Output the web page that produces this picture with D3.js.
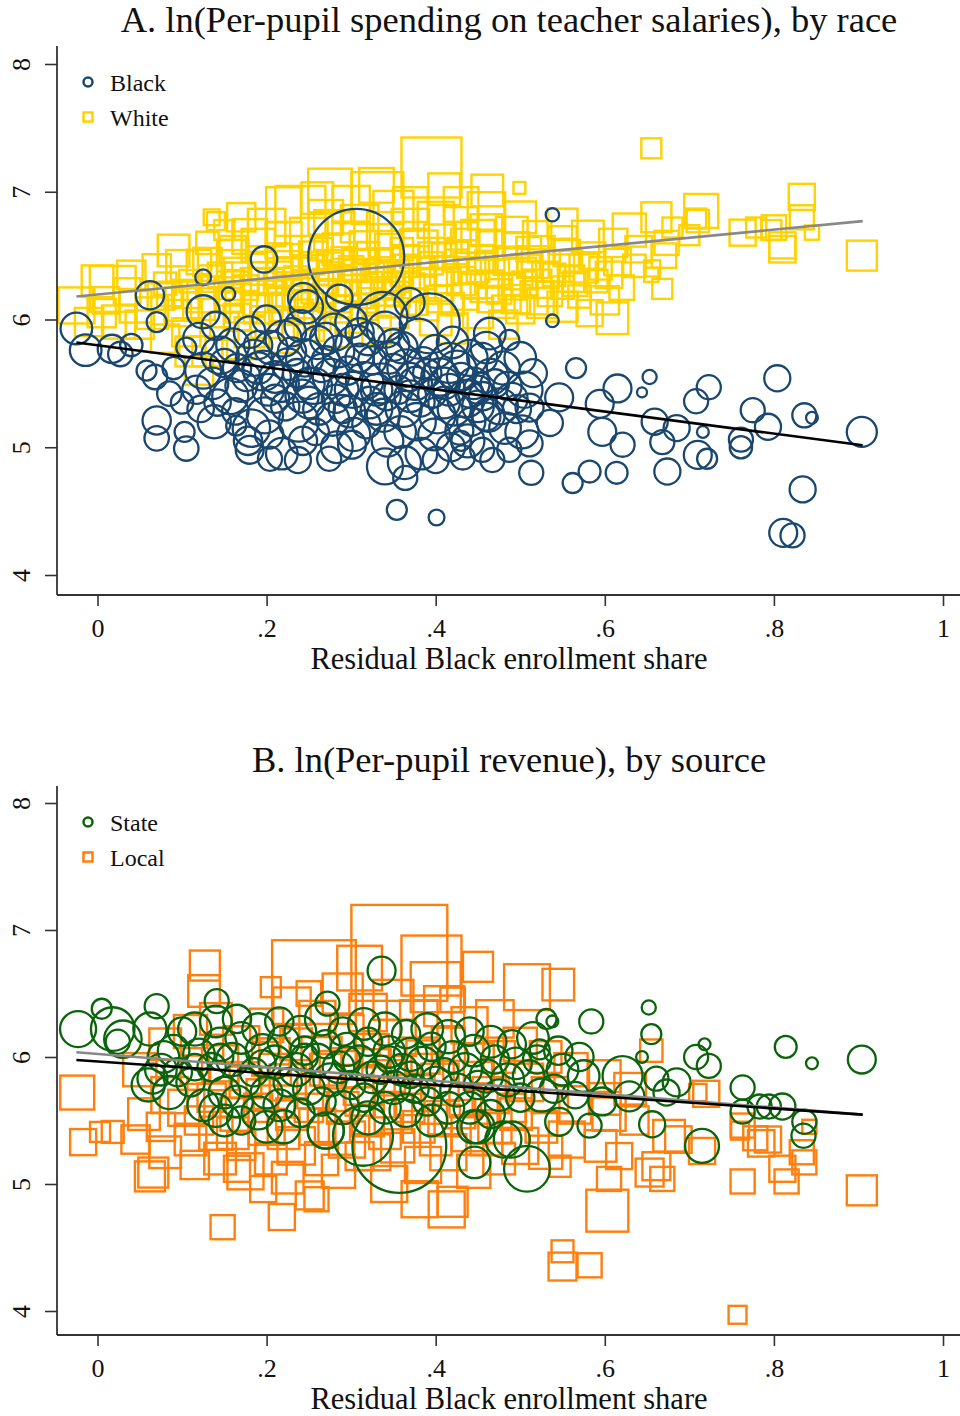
<!DOCTYPE html>
<html>
<head>
<meta charset="utf-8">
<script src="https://cdn.jsdelivr.net/npm/d3@7"></script>
<style>
  body { margin: 0; background: #fff; }
</style>
</head>
<body>
<div id="chart"></div>
<script>
//axis ticks
const xTicks = [0, 0.2, 0.4, 0.6, 0.8, 1];
const xTickLabels = ["0", ".2", ".4", ".6", ".8", "1"];
const yTicks = [4, 5, 6, 7, 8];

//panel A: [residual black share, ln spending, enrollment weight]
const blackA = [
  [-0.025,5.93,10],[-0.014,5.76,10],[0.017,5.77,8],[0.027,5.73,6],[0.04,5.8,5],
  [0.062,6.19,8],[0.07,5.98,4],[0.058,5.6,4],[0.068,5.55,6],[0.085,5.42,6],
  [0.07,5.21,8],[0.07,5.07,6],[0.105,4.99,6],[0.103,5.12,4],[0.1,5.35,5],
  [0.09,5.62,5],[0.105,5.78,4],[0.125,6.33,2.5],[0.155,6.2,1.8],
  [0.197,6.47,7],[0.538,6.82,1.8],[0.538,5.99,1.6],
  [0.393,5.97,36],[0.337,6.02,25],[0.247,6.1,11],[0.125,6.06,11],[0.369,6.13,9],
  [0.286,6.17,7],[0.243,6.17,9],[0.455,5.7,9],
  [0.12,5.85,10],[0.125,5.6,13],[0.117,5.45,8],[0.122,5.3,7],
  [0.14,5.95,8],[0.145,5.72,14],[0.136,5.5,10],[0.142,5.35,7],[0.138,5.2,11],
  [0.16,5.8,11],[0.165,5.62,8],[0.157,5.4,13],[0.163,5.28,7],
  [0.18,5.9,10],[0.185,5.7,13],[0.176,5.55,8],[0.182,5.15,14],[0.178,5.05,8],
  [0.2,6.0,8],[0.205,5.78,11],[0.196,5.6,16],[0.202,5.45,10],[0.198,5.25,13],[0.203,5.1,8],
  [0.22,5.85,13],[0.225,5.65,10],[0.216,5.5,14],[0.222,5.32,8],[0.218,4.95,10],
  [0.24,5.95,10],[0.245,5.7,14],[0.236,5.58,8],[0.242,5.4,11],[0.238,5.2,16],[0.243,5.05,8],
  [0.26,5.82,11],[0.265,5.62,8],[0.256,5.48,13],[0.262,5.3,10],[0.258,5.12,7],
  [0.28,5.9,14],[0.285,5.75,10],[0.276,5.55,13],[0.282,5.38,8],[0.278,5.22,11],[0.283,5.0,10],
  [0.3,5.98,10],[0.305,5.8,16],[0.296,5.6,8],[0.302,5.45,13],[0.298,5.28,10],[0.303,5.1,11],
  [0.32,5.85,11],[0.325,5.68,8],[0.316,5.52,14],[0.322,5.35,10],[0.318,5.18,8],
  [0.34,5.92,13],[0.345,5.7,10],[0.336,5.5,16],[0.342,5.4,8],[0.338,5.25,11],[0.343,5.05,10],
  [0.36,5.78,10],[0.365,5.62,14],[0.356,5.45,8],[0.362,5.3,13],[0.358,5.12,10],[0.363,4.88,11],
  [0.38,5.85,16],[0.385,5.66,10],[0.376,5.5,11],[0.382,5.35,8],[0.378,5.2,14],[0.383,4.95,10],
  [0.4,5.75,11],[0.405,5.55,14],[0.396,5.42,8],[0.402,5.25,13],[0.398,5.1,10],
  [0.42,5.82,10],[0.425,5.6,16],[0.416,5.45,10],[0.422,5.3,11],[0.418,5.0,8],
  [0.44,5.7,13],[0.445,5.5,10],[0.436,5.38,14],[0.442,5.2,8],[0.438,5.05,11],
  [0.46,5.78,10],[0.465,5.55,13],[0.456,5.4,8],[0.462,5.25,11],
  [0.48,5.62,11],[0.485,5.48,8],[0.476,5.32,13],[0.482,5.15,10],
  [0.5,5.7,10],[0.505,5.45,13],[0.496,5.3,8],[0.502,5.12,11],
  [0.15,5.66,8],[0.17,5.48,10],[0.19,5.8,8],[0.21,5.55,10],[0.23,5.75,8],[0.25,5.5,10],
  [0.27,5.68,8],[0.29,5.45,10],[0.31,5.7,8],[0.33,5.45,10],[0.35,5.62,8],[0.37,5.4,10],
  [0.39,5.58,8],[0.41,5.35,10],[0.43,5.55,8],[0.45,5.32,10],[0.47,5.5,8],[0.49,5.38,10],
  [0.21,5.38,8],[0.25,5.35,10],[0.29,5.3,8],[0.33,5.3,10],[0.37,5.55,8],[0.41,5.5,10],
  [0.45,5.45,8],[0.27,5.85,10],[0.31,5.9,8],[0.35,5.8,10],[0.23,5.9,8],[0.19,5.62,10],
  [0.354,4.51,4],[0.401,4.45,2.5],[0.34,4.85,13],[0.364,4.76,5.8],[0.237,4.9,6.8],
  [0.204,4.91,5.8],[0.18,4.98,7.8],[0.164,5.17,4],[0.274,4.91,5.8],[0.301,5.02,7.8],
  [0.4,4.9,6.8],[0.43,5.05,4],
  [0.804,5.54,6.8],[0.834,4.67,6.8],[0.811,4.33,7.8],[0.822,4.31,5.8],[0.904,5.12,9],
  [0.836,5.25,5.8],[0.845,5.23,1.4],[0.775,5.29,5.8],[0.793,5.16,6.8],[0.761,5.06,5.8],
  [0.761,5.0,5],[0.723,5.47,5.8],[0.708,5.36,5.8],[0.716,5.12,1.4],[0.71,4.94,7.8],
  [0.721,4.91,4],[0.674,4.81,6.8],[0.668,5.04,5.8],[0.653,5.55,2],[0.644,5.43,1],
  [0.659,5.2,6.8],[0.685,5.15,6.8],[0.621,5.02,5.8],[0.614,4.8,4.8],[0.582,4.81,4.8],
  [0.562,4.72,4],[0.513,4.8,5.8],[0.615,5.46,7.8],[0.566,5.62,4],[0.594,5.34,7.8],
  [0.597,5.12,7.8],[0.546,5.39,7.8],[0.515,5.58,7.8],[0.511,5.31,7.8],[0.535,5.19,6.8],
  [0.511,5.03,6.8],[0.487,4.98,5.8],[0.455,4.98,5.8],[0.467,4.9,5.8],[0.432,4.92,5.8],
  [0.464,5.89,10],[0.487,5.84,4],[0.46,5.24,7.8],[0.44,5.42,7.8],[0.416,5.66,16],
  [0.428,5.13,7.8],[0.306,6.49,92]
];

const whiteA = [
  [0.395,7.19,36],[0.655,7.34,4],[0.499,7.03,1.4],[0.461,7.01,10],[0.275,7.01,19],
  [0.331,6.95,27],[0.24,6.85,25],[0.714,6.85,11.5],[0.833,6.96,6.8],[0.833,6.8,5.8],
  [0.845,6.68,2],[0.904,6.5,9],[0.763,6.68,6.8],[0.779,6.72,4],[0.81,6.58,6.8],
  [0.797,6.7,4],[0.668,6.24,4],[0.656,6.4,2.6],[0.673,6.6,5.8],[0.661,6.8,9],
  [0.708,6.79,4],[0.609,6.01,10],[0.582,6.05,6.8],[0.629,6.7,11],[0.526,6.13,9],
  [0.52,6.17,11],[0.68,6.72,4],[0.67,6.5,6],[0.655,6.35,2],[0.81,6.55,7],[0.8,6.72,6],
  [0.71,6.77,5],[0.7,6.66,4],
  [0.018,6.24,21],[-0.025,6.11,13],[0.025,5.98,11],[0.09,6.54,10],[0.14,6.77,3.2],
  [0.135,6.8,2.5],[0.13,6.6,5],[0.15,6.7,4],[0.12,6.45,6],[0.16,6.55,7],
  [0.11,5.75,9],[0.12,5.6,8],[0.105,5.9,8],
  [0.0,6.3,10],[0.005,6.05,8],[0.01,6.15,7],[-0.01,5.98,8],
  [0.04,6.35,8],[0.045,6.1,10],[0.035,6.22,7],[0.05,5.96,8],
  [0.07,6.4,8],[0.075,6.18,7],[0.065,6.05,10],[0.08,6.28,5],
  [0.1,6.42,10],[0.105,6.2,8],[0.095,6.05,7],[0.11,6.3,5],[0.1,6.12,11],
  [0.13,6.45,8],[0.135,6.32,7],[0.125,6.18,10],[0.14,6.05,8],[0.13,6.25,5],
  [0.16,6.5,10],[0.165,6.38,7],[0.155,6.22,8],[0.17,6.1,10],[0.16,6.3,5],[0.165,6.02,7],
  [0.19,6.58,11],[0.195,6.42,8],[0.185,6.3,7],[0.2,6.18,10],[0.19,6.08,8],[0.195,6.36,5],
  [0.22,6.62,13],[0.225,6.48,8],[0.215,6.35,7],[0.23,6.22,10],[0.22,6.1,8],[0.225,6.4,5],[0.21,6.28,5],
  [0.25,6.65,14],[0.255,6.5,8],[0.245,6.38,7],[0.26,6.25,10],[0.25,6.12,8],[0.255,6.44,5],[0.245,6.3,5],[0.26,6.02,7],
  [0.28,6.7,16],[0.285,6.55,10],[0.275,6.42,7],[0.29,6.3,8],[0.28,6.18,10],[0.285,6.08,7],[0.275,6.36,5],[0.29,6.48,5],
  [0.31,6.75,14],[0.315,6.58,8],[0.305,6.45,7],[0.32,6.32,10],[0.31,6.2,8],[0.315,6.1,7],[0.305,6.38,5],[0.32,6.52,5],
  [0.34,6.7,13],[0.345,6.56,8],[0.335,6.46,5],[0.35,6.34,10],[0.34,6.22,8],[0.345,6.12,7],[0.335,6.4,5],[0.35,6.28,5],
  [0.37,6.72,14],[0.375,6.6,8],[0.365,6.48,7],[0.38,6.36,10],[0.37,6.25,8],[0.375,6.14,7],[0.365,6.42,5],
  [0.4,6.78,13],[0.405,6.62,10],[0.395,6.5,7],[0.41,6.38,8],[0.4,6.27,10],[0.405,6.16,7],[0.395,6.44,5],
  [0.43,6.75,11],[0.435,6.6,8],[0.425,6.52,5],[0.44,6.4,10],[0.43,6.3,8],[0.435,6.18,7],[0.425,6.46,5],
  [0.46,6.7,10],[0.465,6.58,8],[0.455,6.48,7],[0.47,6.36,8],[0.46,6.26,10],[0.465,6.16,7],
  [0.49,6.68,10],[0.495,6.58,7],[0.485,6.46,8],[0.5,6.36,10],[0.49,6.26,7],[0.495,6.16,8],
  [0.52,6.66,8],[0.525,6.55,7],[0.515,6.45,10],[0.53,6.35,7],[0.52,6.28,8],
  [0.55,6.62,8],[0.555,6.52,7],[0.545,6.42,10],[0.56,6.32,7],[0.55,6.25,5],
  [0.58,6.65,10],[0.585,6.5,7],[0.575,6.4,8],[0.59,6.3,5],
  [0.61,6.6,8],[0.615,6.45,7],[0.605,6.35,7],
  [0.64,6.55,7],[0.635,6.42,5],
  [0.2,6.72,14],[0.18,6.65,12],[0.35,6.85,16],[0.43,6.9,12],[0.3,6.62,14],[0.45,6.65,11],
  [0.27,6.8,12],[0.16,6.42,10],[0.22,6.4,12],[0.38,6.55,14],[0.33,6.28,10],[0.24,6.2,10],[0.12,6.12,10],
  [0.15,5.95,8],[0.18,5.9,9],[0.2,5.98,10],[0.25,5.95,9],[0.3,6.02,10],[0.35,6.05,9],
  [0.4,6.0,10],[0.45,6.05,9],[0.5,6.08,8],[0.55,6.1,9],[0.13,5.75,9],[0.17,5.8,8],
  [0.08,5.85,8],[0.22,5.85,8],[0.28,5.9,9],[0.33,5.92,8],[0.42,5.93,9],[0.48,5.96,8],
  [0.6,6.15,8],[0.62,6.25,6],
  [0.22,6.9,12],[0.3,6.9,14],[0.37,6.9,12],[0.46,6.85,14],[0.5,6.8,10],[0.55,6.75,9],
  [0.17,6.8,8],[0.26,6.95,10],[0.41,7.02,10],[0.33,7.05,12],
  [0.155,6.15,6],[0.175,6.25,6],[0.185,6.12,5],[0.205,6.3,6],[0.215,6.16,5],[0.235,6.32,6],
  [0.24,6.06,6],[0.265,6.18,5],[0.27,6.3,6],[0.295,6.22,5],[0.3,6.4,6],[0.325,6.15,6],
  [0.33,6.38,5],[0.355,6.2,6],[0.36,6.35,5],[0.385,6.24,6],[0.39,6.08,5],[0.415,6.3,6],
  [0.42,6.12,5],[0.445,6.26,6],[0.45,6.38,5],[0.475,6.22,6],[0.48,6.1,5],[0.505,6.28,6],
  [0.51,6.42,5],[0.535,6.2,6],[0.54,6.35,5],[0.565,6.28,6],[0.57,6.18,5],[0.595,6.4,5],
  [0.215,6.5,6],[0.265,6.55,5],[0.315,6.45,6],[0.36,6.55,5],[0.41,6.5,6],[0.46,6.45,5],
  [0.51,6.55,6],[0.56,6.45,5],[0.145,6.35,6],[0.085,6.2,6]
];

//panel B
const stateB = [
  [-0.023,6.22,13],[0.005,6.38,4],[0.018,6.22,19],[0.024,6.12,5.8],[0.07,6.4,5.8],
  [0.065,5.83,9],[0.336,6.68,7.8],[0.272,6.42,5.8],[0.141,6.44,5.8],
  [0.06,5.78,11],[0.075,5.9,10],[0.078,6.0,10],[0.062,6.22,11],[0.03,6.14,14],
  [0.09,6.05,10],[0.095,5.88,8],[0.085,5.72,11],[0.1,6.2,8],
  [0.115,6.22,11],[0.12,6.02,10],[0.11,5.8,8],[0.125,5.62,10],[0.115,5.92,7],
  [0.14,6.28,10],[0.145,6.1,11],[0.135,5.92,8],[0.15,5.72,10],[0.14,5.58,11],[0.145,6.0,7],
  [0.165,6.3,8],[0.17,6.15,10],[0.16,5.98,11],[0.175,5.8,8],[0.165,5.65,10],[0.17,5.5,8],
  [0.19,6.22,10],[0.195,6.05,11],[0.185,5.88,8],[0.2,5.72,10],[0.19,5.56,11],[0.195,5.95,7],
  [0.215,6.28,8],[0.22,6.12,10],[0.21,5.96,11],[0.225,5.8,8],[0.215,5.62,10],[0.22,5.45,11],
  [0.24,6.2,10],[0.245,6.05,8],[0.235,5.9,11],[0.25,5.75,10],[0.24,5.56,8],[0.245,6.0,7],
  [0.265,6.3,11],[0.27,6.1,8],[0.26,5.98,10],[0.275,5.82,11],[0.265,5.65,8],[0.27,5.42,13],
  [0.29,6.2,8],[0.295,6.06,11],[0.285,5.92,10],[0.3,5.78,8],[0.29,5.6,11],[0.295,5.98,7],
  [0.315,6.26,10],[0.32,6.12,8],[0.31,5.96,11],[0.325,5.84,10],[0.315,5.68,8],[0.32,5.52,11],
  [0.34,6.22,11],[0.345,6.04,10],[0.335,5.9,8],[0.35,5.76,11],[0.34,5.6,10],[0.345,5.98,7],
  [0.365,6.18,8],[0.37,6.02,11],[0.36,5.9,10],[0.375,5.75,8],[0.365,5.58,11],[0.37,5.86,7],
  [0.39,6.22,10],[0.395,6.08,8],[0.385,5.95,11],[0.4,5.8,10],[0.39,5.65,8],[0.395,5.5,10],
  [0.415,6.16,11],[0.42,6.0,10],[0.41,5.88,8],[0.425,5.74,11],[0.415,5.6,10],
  [0.44,6.2,8],[0.445,6.05,10],[0.435,5.9,11],[0.45,5.78,8],[0.44,5.6,10],[0.445,5.45,11],
  [0.465,6.12,10],[0.47,5.98,8],[0.46,5.85,11],[0.475,5.7,10],[0.465,5.55,8],
  [0.49,6.1,8],[0.495,5.95,10],[0.485,5.82,11],[0.5,5.68,8],[0.49,5.35,13],
  [0.515,6.15,10],[0.52,5.98,8],[0.51,5.85,10],[0.525,5.7,11],
  [0.545,6.05,8],[0.55,5.9,10],[0.54,5.75,8],
  [0.57,6.0,8],[0.575,5.85,10],[0.565,5.7,7],
  [0.2,5.45,10],[0.27,5.42,13],[0.15,5.5,10],[0.45,5.45,11],[0.48,5.35,13],
  [0.357,5.3,88],[0.314,5.38,36],[0.446,5.17,10],[0.508,5.12,21],[0.652,6.39,2],
  [0.655,6.18,4],[0.814,6.08,4.8],[0.845,5.95,1.4],[0.904,5.98,7.8],[0.715,5.3,11.5],
  [0.835,5.38,5.8],[0.836,5.49,5.8],[0.763,5.76,5.8],[0.763,5.57,5.8],[0.783,5.61,5.8],
  [0.794,5.61,5.8],[0.81,5.61,6.8],[0.708,6.0,5.8],[0.718,6.1,1.4],[0.723,5.93,5.8],
  [0.656,5.47,6.8],[0.673,5.72,6.8],[0.685,5.8,7.8],[0.661,5.83,5.8],[0.629,5.69,9],
  [0.644,6.0,1.4],[0.584,6.28,5.8],[0.621,5.85,16],[0.597,5.65,7.8],[0.582,5.46,5.8],
  [0.546,5.49,7.8],[0.531,6.3,4],[0.538,6.28,1.4],[0.523,6.06,4]
];

const localB = [
  [0.357,6.82,92],[0.256,6.59,70],[0.395,6.72,36],[0.127,6.72,9],[0.126,6.52,10],
  [0.45,6.71,9],[0.508,6.55,21],[0.545,6.57,10],[0.205,6.55,4],[0.25,6.5,6],
  [0.31,6.7,20],[0.4,6.55,25],[0.42,6.45,6],[0.655,6.05,5],[0.71,5.72,3],
  [0.763,5.02,5.8],[0.904,4.95,9],[0.757,3.97,3.2],[0.55,4.47,4.8],[0.55,4.35,7.8],
  [0.582,4.36,5.8],[0.603,4.79,17.6],[0.815,5.02,5.8],[0.81,5.12,6.8],[0.836,5.17,5.8],
  [0.833,5.25,5.8],[0.763,5.46,5.8],[0.793,5.35,6.8],[0.778,5.36,5.8],[0.72,5.71,6.8],
  [0.715,5.26,6.8],[0.842,5.45,2],[0.676,5.38,10],[0.661,5.14,7.8],[0.668,5.04,5.8],
  [0.617,5.22,6.8],[0.605,5.04,5.8],[0.653,5.09,7.8],[0.76,5.42,3.2],[0.785,5.32,7],
  [0.687,5.35,7],[0.547,5.14,4.5],[0.6,5.67,10],
  [0.148,4.66,5.8],[-0.024,5.72,11.5],[-0.017,5.33,6.8],[0.003,5.41,4],[0.018,5.41,4.8],
  [0.066,5.09,9],[0.218,4.74,6.8],[0.251,4.91,7.8],[0.259,4.88,5.8],[0.381,4.88,13],
  [0.413,4.8,13],[0.42,4.86,9],[0.196,4.96,6.8],[0.165,5.12,6.8],[0.062,5.06,9],[0.31,5.22,7.8],
  [0.05,5.9,11],[0.055,5.55,10],[0.045,5.35,8],
  [0.08,6.1,10],[0.085,5.7,13],[0.075,5.45,8],[0.08,5.25,10],
  [0.11,6.2,11],[0.115,5.9,8],[0.105,5.6,13],[0.11,5.35,10],[0.115,5.15,8],
  [0.14,6.3,10],[0.145,5.95,13],[0.135,5.68,8],[0.14,5.4,11],[0.145,5.2,10],
  [0.17,6.1,13],[0.175,5.8,10],[0.165,5.55,11],[0.17,5.3,8],[0.175,5.1,13],
  [0.2,6.25,11],[0.205,6.0,14],[0.195,5.7,10],[0.2,5.45,13],[0.205,5.2,10],
  [0.23,6.4,14],[0.235,6.1,10],[0.225,5.8,13],[0.23,5.55,10],[0.235,5.3,14],[0.225,5.05,10],
  [0.26,6.3,13],[0.265,6.0,16],[0.255,5.72,10],[0.26,5.45,13],[0.265,5.2,11],
  [0.29,6.5,16],[0.295,6.2,11],[0.285,5.9,14],[0.29,5.6,10],[0.295,5.35,13],[0.285,5.1,11],
  [0.32,6.35,14],[0.325,6.05,11],[0.315,5.78,16],[0.32,5.5,10],[0.325,5.25,13],
  [0.35,6.45,16],[0.355,6.15,13],[0.345,5.85,10],[0.35,5.55,14],[0.355,5.3,11],[0.345,5.0,13],
  [0.38,6.3,14],[0.385,6.0,11],[0.375,5.7,16],[0.38,5.45,10],[0.385,5.15,13],
  [0.41,6.4,16],[0.415,6.1,11],[0.405,5.8,14],[0.41,5.5,10],[0.415,5.25,13],
  [0.44,6.25,13],[0.445,5.95,16],[0.435,5.65,10],[0.44,5.4,13],[0.445,5.1,11],
  [0.47,6.3,14],[0.475,6.0,10],[0.465,5.7,13],[0.47,5.45,11],[0.475,5.2,10],
  [0.5,6.1,11],[0.505,5.8,14],[0.495,5.55,10],[0.5,5.3,13],
  [0.53,6.0,10],[0.535,5.7,13],[0.525,5.45,10],[0.53,5.25,11],
  [0.56,5.9,11],[0.565,5.6,10],[0.555,5.35,13],
  [0.6,5.85,10],[0.605,5.55,11],[0.595,5.3,10],
  [0.63,5.75,10],[0.635,5.5,8],
  [0.12,5.5,8],[0.16,5.4,10],[0.19,5.6,8],[0.22,5.4,10],[0.25,5.6,8],[0.28,5.45,10],
  [0.31,5.65,8],[0.34,5.4,10],[0.37,5.6,8],[0.4,5.35,10],[0.43,5.55,8],[0.46,5.35,10],
  [0.49,5.6,8],[0.27,5.9,10],[0.33,5.95,8],[0.39,5.9,10],[0.45,5.85,8],[0.21,5.9,10],[0.15,5.85,8]
];

//linear fits (endpoints of fitted values)
const fitBlackA = [[-0.025, 5.82], [0.905, 5.016]];
const fitWhiteA = [[-0.025, 6.18], [0.905, 6.77]];
const fitStateB = [[-0.025, 5.976], [0.905, 5.546]];
const fitLocalB = [[-0.025, 6.037], [0.905, 5.546]];

const width = 960;
const height = 1416;
const font = "'Liberation Serif', 'Times New Roman', serif";
const axisColor = "#333";

const svg = d3
  .select("#chart")
  .append("svg")
  .attr("width", width)
  .attr("height", height)
  .style("font-family", font)
  .style("background", "#fff");

//marker size from weight
const size = d3.scaleSqrt().domain([0, 100]).range([0, 50]);

const x = d3.scaleLinear().domain([0, 1]).range([97.5, 943]);

function drawPanel(cfg) {
  const y = d3.scaleLinear().domain([4, 8]).range([cfg.y4, cfg.y8]);
  const g = svg.append("g");

  //title
  g.append("text")
    .attr("x", 509)
    .attr("y", cfg.titleY)
    .attr("text-anchor", "middle")
    .attr("font-size", 36.5)
    .attr("fill", "#111")
    .text(cfg.title);

  //squares
  g.append("g")
    .selectAll("rect")
    .data(cfg.squares)
    .join("rect")
    .attr("x", (d) => x(d[0]) - size(d[2]))
    .attr("y", (d) => y(d[1]) - size(d[2]))
    .attr("width", (d) => 2 * size(d[2]))
    .attr("height", (d) => 2 * size(d[2]))
    .attr("fill", "none")
    .attr("stroke", cfg.squareColor)
    .attr("stroke-width", 2.4);

  //circles
  g.append("g")
    .selectAll("circle")
    .data(cfg.circles)
    .join("circle")
    .attr("cx", (d) => x(d[0]))
    .attr("cy", (d) => y(d[1]))
    .attr("r", (d) => size(d[2]))
    .attr("fill", "none")
    .attr("stroke", cfg.circleColor)
    .attr("stroke-width", 2.3);

  //fit lines
  const line = d3.line().x((d) => x(d[0])).y((d) => y(d[1]));
  g.append("path")
    .attr("d", line(cfg.fitSquares))
    .attr("fill", "none")
    .attr("stroke", "#888")
    .attr("stroke-width", 2.6);
  g.append("path")
    .attr("d", line(cfg.fitCircles))
    .attr("fill", "none")
    .attr("stroke", "#000")
    .attr("stroke-width", 2.6);

  //y axis
  const gy = g.append("g")
    .attr("transform", `translate(57,0)`)
    .call(d3.axisLeft(y).tickValues(yTicks).tickSize(12).tickFormat(d3.format("d")));
  gy.select(".domain").remove();
  gy.selectAll(".tick line").attr("stroke", axisColor).attr("stroke-width", 1.6);
  gy.selectAll(".tick text")
    .attr("transform", "rotate(-90)")
    .attr("x", 0)
    .attr("y", -27)
    .attr("dy", 0)
    .attr("text-anchor", "middle")
    .attr("font-family", font)
    .attr("font-size", 26)
    .attr("fill", "#111");

  //x axis
  const gx = g.append("g")
    .attr("transform", `translate(0,${cfg.axisY})`)
    .call(d3.axisBottom(x).tickValues(xTicks).tickSize(11).tickFormat((d, i) => xTickLabels[i]));
  gx.select(".domain").remove();
  gx.selectAll(".tick line").attr("stroke", axisColor).attr("stroke-width", 1.6);
  gx.selectAll(".tick text")
    .attr("y", 42)
    .attr("dy", 0)
    .attr("font-family", font)
    .attr("font-size", 26)
    .attr("fill", "#111");

  //axis lines
  g.append("line")
    .attr("x1", 57).attr("x2", 57)
    .attr("y1", cfg.axisTop).attr("y2", cfg.axisY)
    .attr("stroke", axisColor).attr("stroke-width", 1.8);
  g.append("line")
    .attr("x1", 57).attr("x2", width)
    .attr("y1", cfg.axisY).attr("y2", cfg.axisY)
    .attr("stroke", axisColor).attr("stroke-width", 1.8);

  //x title
  g.append("text")
    .attr("x", 509)
    .attr("y", cfg.axisY + 74)
    .attr("text-anchor", "middle")
    .attr("font-size", 30.5)
    .attr("fill", "#111")
    .text("Residual Black enrollment share");

  //legend
  const lg = g.append("g").attr("transform", `translate(88,${cfg.legendY})`);
  lg.append("circle")
    .attr("r", 4.5)
    .attr("fill", "none")
    .attr("stroke", cfg.circleColor)
    .attr("stroke-width", 2.5);
  lg.append("rect")
    .attr("x", -4.5).attr("y", 35 - 4.5)
    .attr("width", 9).attr("height", 9)
    .attr("fill", "none")
    .attr("stroke", cfg.squareColor)
    .attr("stroke-width", 2.5);
  lg.selectAll("text")
    .data(cfg.legend)
    .join("text")
    .attr("x", 22)
    .attr("y", (d, i) => i * 35 + 9)
    .attr("font-size", 24)
    .attr("fill", "#111")
    .text((d) => d);
}

drawPanel({
  title: "A. ln(Per-pupil spending on teacher salaries), by race",
  titleY: 32,
  y4: 575, y8: 64,
  axisY: 595, axisTop: 46,
  legendY: 82,
  legend: ["Black", "White"],
  circles: blackA, squares: whiteA,
  circleColor: "#1a476f", squareColor: "#ffd200",
  fitCircles: fitBlackA, fitSquares: fitWhiteA
});

drawPanel({
  title: "B. ln(Per-pupil revenue), by source",
  titleY: 772,
  y4: 1311, y8: 803,
  axisY: 1335, axisTop: 786,
  legendY: 822,
  legend: ["State", "Local"],
  circles: stateB, squares: localB,
  circleColor: "#0b640b", squareColor: "#ff7f0e",
  fitCircles: fitStateB, fitSquares: fitLocalB
});
</script>
</body>
</html>
